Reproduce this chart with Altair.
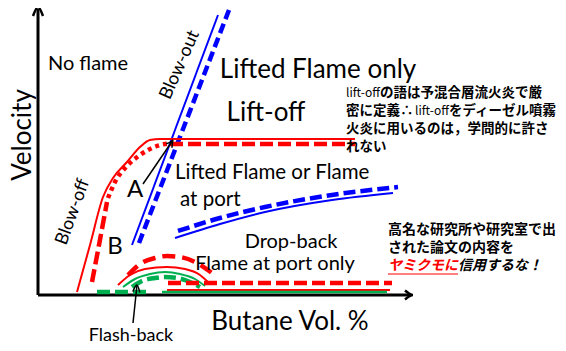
import altair as alt
import pandas as pd
import math

# Diagram coordinates: x = butane vol. (arbitrary units), y = velocity (arbitrary units)
axis_y_x = [0, 0];      axis_y_y = [0, 288]
axis_x_x = [0, 375];    axis_x_y = [0, 0]

blowout_solid_x = [94, 180];   blowout_solid_y = [50, 280]
blowout_dash_x = [101, 191];   blowout_dash_y = [52, 285]

liftoff_solid_x = [39, 52, 65, 75, 89, 102, 112, 122, 317]
liftoff_solid_y = [3, 50, 98, 117, 133, 148, 155, 156, 156]
blowoff_dash_x = [54, 61, 69]
blowoff_dash_y = [13, 50, 93]
liftoff_dot_x = [70, 77, 89, 102, 119, 134]
liftoff_dot_y = [97, 113, 129, 140, 149, 152]
liftoff_dash_x = [132, 317]
liftoff_dash_y = [151, 151]

lifted_solid_x = [137, 182, 227, 294, 355]
lifted_solid_y = [57, 71, 83, 95, 102]
lifted_dash_x = [140, 182, 227, 294, 360]
lifted_dash_y = [64, 77, 88, 100, 108]

red_arc_dash_x = [90, 102, 117, 129, 142, 157, 174]
red_arc_dash_y = [20, 31, 37, 39, 38, 33, 22]
red_arc_solid_x = [80, 92, 107, 129, 147, 162, 170]
red_arc_solid_y = [10, 20, 26, 28, 26, 20, 13]
green_arc_solid_x = [85, 97, 112, 127, 142, 157, 167]
green_arc_solid_y = [8, 16, 21, 23, 21, 16, 9]
green_arc_dash_x = [94, 104, 117, 127, 139, 152, 162]
green_arc_dash_y = [8, 14, 17, 18, 17, 13, 8]

red_base_dash_x = [130, 354];   red_base_dash_y = [12, 12]
red_base_solid_x = [129, 352];  red_base_solid_y = [5, 5]
green_base_solid_x = [124, 349]; green_base_solid_y = [3, 3]
green_base_dash_x = [59, 112];  green_base_dash_y = [3, 3]

arrow_a_x = [105, 135];   arrow_a_y = [111, 155]
arrow_fb_x = [95, 99];    arrow_fb_y = [-28, 10]

labels = ["No flame", "Lifted Flame only", "Lift-off", "A", "B",
          "Drop-back", "Flame at port only", "Butane Vol. %"]
labels_x = [50, 280, 228, 97, 77, 253, 237, 252]
labels_y = [231, 225, 182, 105, 48, 53, 31, -27]
labels_size = [20, 26, 26, 24, 24, 20, 20, 26]

left_labels = ["Lifted Flame or Flame", "at port"]
left_labels_x = [137, 142]
left_labels_y = [122, 95]
left_size = [20.5, 20.5]

bottom_label = "Flash-back"
bottom_x = 93
bottom_y = -46

rot_labels = ["Velocity", "Blow-out", "Blow-off"]
rot_x = [-15, 142, 35]
rot_y = [160, 230, 83]
rot_angle = [270, 294, 290]
rot_size = [26, 18, 18]

note1_lines_y = [202, 184, 166, 148]
note1_x = 308
note2_lines = ["高名な研究所や研究室で出", "された論文の内容を"]
note2_x = 350
note2_lines_y = [65, 47]
note2_last_y = 29

RED = "#ff0000"; BLUE = "#0000ff"; GREEN = "#00b050"; BLACK = "#000000"
FONT = "Lato"
JP = "Noto Sans CJK JP"

X = alt.X("x:Q", scale=alt.Scale(domain=[-30, 520], nice=False, zero=False), axis=None)
Y = alt.Y("y:Q", scale=alt.Scale(domain=[-48, 287], nice=False, zero=False), axis=None)


def line(xs, ys, color, width, dash=None):
    df = pd.DataFrame({"x": xs, "y": ys, "i": list(range(len(xs)))})
    kw = dict(color=color, strokeWidth=width, strokeCap="butt",
              interpolate="monotone" if len(xs) > 2 else "linear")
    if dash:
        kw["strokeDash"] = dash
    return alt.Chart(df).mark_line(**kw).encode(x=X, y=Y, order="i:Q")


def head(xs, ys, color, width, length, spread):
    # chevron arrowhead at the last point of a polyline, derived from its direction
    x1, y1, x2, y2 = xs[-2], ys[-2], xs[-1], ys[-1]
    d = math.hypot(x2 - x1, y2 - y1)
    ux, uy = (x2 - x1) / d, (y2 - y1) / d
    px, py = -uy, ux
    bx, by = x2 - ux * length, y2 - uy * length
    hx = [bx + px * spread, x2, bx - px * spread]
    hy = [by + py * spread, y2, by - py * spread]
    return line(hx, hy, color, width)


def text(t, x, y, size, **kw):
    df = pd.DataFrame({"x": [x], "y": [y], "t": [t]})
    opts = dict(font=FONT, fontSize=size, color=BLACK, baseline="middle", align="center")
    opts.update(kw)
    return alt.Chart(df).mark_text(**opts).encode(x=X, y=Y, text="t:N")


layers = [
    line(axis_y_x, [0, 286], BLACK, 3),
    head(axis_y_x, axis_y_y, BLACK, 2.5, 9, 5),
    line([0, 373], axis_x_y, BLACK, 3),
    head(axis_x_x, axis_x_y, BLACK, 2.5, 8, 4.5),
    line(blowout_solid_x, blowout_solid_y, BLUE, 2),
    line(blowout_dash_x, blowout_dash_y, BLUE, 4.5, [10, 5]),
    line(liftoff_solid_x, liftoff_solid_y, RED, 2),
    line(blowoff_dash_x, blowoff_dash_y, RED, 4.5, [13, 5]),
    line(liftoff_dot_x, liftoff_dot_y, RED, 4.5, [4, 4]),
    line(liftoff_dash_x, liftoff_dash_y, RED, 4.5, [13, 5]),
    line(lifted_solid_x, lifted_solid_y, BLUE, 2),
    line(lifted_dash_x, lifted_dash_y, BLUE, 4.5, [12, 5]),
    line(red_arc_dash_x, red_arc_dash_y, RED, 4.5, [13, 7]),
    line(red_arc_solid_x, red_arc_solid_y, RED, 2),
    line(green_arc_solid_x, green_arc_solid_y, GREEN, 2),
    line(green_arc_dash_x, green_arc_dash_y, GREEN, 4.5, [12, 5]),
    line(red_base_dash_x, red_base_dash_y, RED, 4.5, [13, 5]),
    line(red_base_solid_x, red_base_solid_y, RED, 2),
    line(green_base_solid_x, green_base_solid_y, GREEN, 2.5),
    line(green_base_dash_x, green_base_dash_y, GREEN, 4.5, [13, 5]),
    line(arrow_a_x, arrow_a_y, BLACK, 1.5),
    head(arrow_a_x, arrow_a_y, BLACK, 1.5, 7, 3.5),
    line(arrow_fb_x, arrow_fb_y, BLACK, 1.5),
    head(arrow_fb_x, arrow_fb_y, BLACK, 1.5, 7, 3.5),
]

for t, x, y, s in zip(labels, labels_x, labels_y, labels_size):
    layers.append(text(t, x, y, s))
for t, x, y, s in zip(left_labels, left_labels_x, left_labels_y, left_size):
    layers.append(text(t, x, y, s, align="left"))
for t, x, y, a, s in zip(rot_labels, rot_x, rot_y, rot_angle, rot_size):
    layers.append(text(t, x, y, s, angle=a))
layers.append(text(bottom_label, bottom_x, bottom_y, 18, baseline="alphabetic"))

# Japanese note 1 (mixed weights)
J = 13.5
L = 12
layers += [
    text("lift-off", note1_x, note1_lines_y[0], L, font=JP, align="left"),
    text("の語は予混合層流火炎で厳", note1_x + 34, note1_lines_y[0], J, font=JP, fontWeight="bold", align="left"),
    text("密に定義∴", note1_x, note1_lines_y[1], J, font=JP, fontWeight="bold", align="left"),
    text("lift-off", note1_x + 69, note1_lines_y[1], L, font=JP, align="left"),
    text("をディーゼル噴霧", note1_x + 103, note1_lines_y[1], J, font=JP, fontWeight="bold", align="left"),
    text("火炎に用いるのは，学問的に許さ", note1_x, note1_lines_y[2], J, font=JP, fontWeight="bold", align="left"),
    text("れない", note1_x, note1_lines_y[3], J, font=JP, fontWeight="bold", align="left"),
]
# Japanese note 2
for t, y in zip(note2_lines, note2_lines_y):
    layers.append(text(t, note2_x, y, 14, font=JP, fontWeight="bold", align="left"))
layers += [
    text("ヤミクモに", note2_x, note2_last_y, 14, font=JP, fontWeight="bold", fontStyle="italic",
         align="left", color=RED),
    text("信用するな！", note2_x + 5 * 14, note2_last_y, 14, font=JP, fontWeight="bold", fontStyle="italic",
         align="left"),
    line([note2_x, note2_x + 5 * 14], [note2_last_y - 8, note2_last_y - 8], RED, 1.2),
]

chart = alt.layer(*layers).properties(
    width=550, height=335, padding=0,
    autosize=alt.AutoSizeParams(type="none"),
).configure_view(strokeWidth=0)

chart.save("out.html", embed_options={"renderer": "svg", "actions": False})
